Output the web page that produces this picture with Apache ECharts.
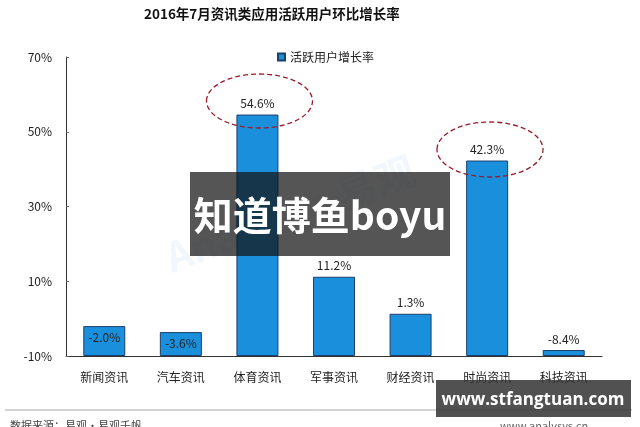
<!DOCTYPE html>
<html>
<head>
<meta charset="utf-8">
<script src="https://cdn.jsdelivr.net/npm/echarts@6/dist/echarts.min.js"></script>
<style>
html,body{margin:0;padding:0;background:#fff;}
#c{width:640px;height:427px;}
</style>
</head>
<body>
<div id="c"></div>
<script>
const categories = ['新闻资讯','汽车资讯','体育资讯','军事资讯','财经资讯','时尚资讯','科技资讯'];
const growth = [-2.0, -3.6, 54.6, 11.2, 1.3, 42.3, -8.4];
const insideLabels = ['新闻资讯','汽车资讯'];
const seriesName = '活跃用户增长率';
const titleText = '2016年7月资讯类应用活跃用户环比增长率';

const chart = echarts.init(document.getElementById('c'));
const font = '"Microsoft YaHei","Noto Sans CJK SC",sans-serif';

chart.setOption({
  backgroundColor: '#fff',
  animation: false,
  title: {
    text: titleText, left: 139, top: 2,
    textStyle: {fontSize: 13.5, fontWeight: 'bold', color: '#111', fontFamily: font}
  },
  legend: {
    data: [seriesName], left: 272, top: 46, icon: 'rect', itemWidth: 7, itemHeight: 7, itemGap: 4,
    textStyle: {fontSize: 12, color: '#222', fontFamily: font}
  },
  grid: {left: 66, right: 38, top: 57, bottom: 71},
  xAxis: {
    type: 'category', data: categories,
    axisLine: {onZero: false, lineStyle: {color: '#333', width: 1}},
    axisTick: {show: false},
    axisLabel: {fontSize: 12, color: '#222', margin: 15, fontFamily: font}
  },
  yAxis: {
    type: 'value', min: -10, max: 70, interval: 20, startValue: -10,
    axisLine: {show: true, lineStyle: {color: '#333'}},
    axisTick: {show: true, inside: true, length: 3, lineStyle: {color: '#666'}},
    splitLine: {show: false},
    axisLabel: {formatter: '{value}%', fontSize: 12, color: '#222', margin: 14, fontFamily: font}
  },
  series: [{
    name: seriesName, type: 'bar', barWidth: 42,
    data: growth.map((v, i) => ({
      value: v,
      label: {position: insideLabels.includes(categories[i]) ? 'insideTop' : 'top'}
    })),
    itemStyle: {color: '#1a8fdc', borderColor: '#1d3f6c', borderWidth: 1},
    label: {
      show: true, fontSize: 12, color: '#222', fontFamily: font,
      formatter: p => p.value.toFixed(1) + '%'
    }
  }],
  graphic: [
    {type: 'text', left: 160, top: 150, rotation: 0.35, z: 1,
     style: {text: 'Analysys 易观', fontSize: 40, fontWeight: 'bold', fill: 'rgba(150,190,225,0.12)', fontFamily: font}},
    {type: 'ellipse', shape: {cx: 259.5, cy: 101, rx: 53, ry: 27}, z: 50,
     style: {fill: 'none', stroke: '#9a1c2c', lineWidth: 1.3, lineDash: [5, 3]}},
    {type: 'ellipse', shape: {cx: 490, cy: 149.5, rx: 53, ry: 27.5}, z: 50,
     style: {fill: 'none', stroke: '#9a1c2c', lineWidth: 1.3, lineDash: [5, 3]}},
    {type: 'line', shape: {x1: 5, y1: 410, x2: 632, y2: 410}, z: 10,
     style: {stroke: '#aaa', lineWidth: 1}},
    {type: 'text', left: 10, top: 420, z: 10,
     style: {text: '数据来源：易观·易观千帆', fontSize: 11, fill: '#444', fontFamily: font}},
    {type: 'text', left: 500, top: 420, z: 10,
     style: {text: 'www.analysys.cn', fontSize: 11, fill: '#666', fontFamily: font}},
    {type: 'rect', shape: {x: 190, y: 172, width: 260, height: 84}, z: 100,
     style: {fill: 'rgba(20,20,20,0.72)'}},
    {type: 'text', x: 320, y: 215, z: 101,
     style: {text: '知道博鱼boyu', fontSize: 39, fontWeight: 'bold', fill: '#fff', align: 'center', verticalAlign: 'middle', fontFamily: '"Noto Sans CJK SC",sans-serif'}},
    {type: 'rect', shape: {x: 436, y: 380, width: 195, height: 37}, z: 100,
     style: {fill: 'rgba(50,50,50,0.85)'}},
    {type: 'text', x: 533, y: 400, z: 101,
     style: {text: 'www.stfangtuan.com', fontSize: 17, fontWeight: 'bold', fill: '#fff', align: 'center', verticalAlign: 'middle', fontFamily: '"Open Sans","DejaVu Sans",sans-serif'}}
  ]
});
</script>
</body>
</html>
